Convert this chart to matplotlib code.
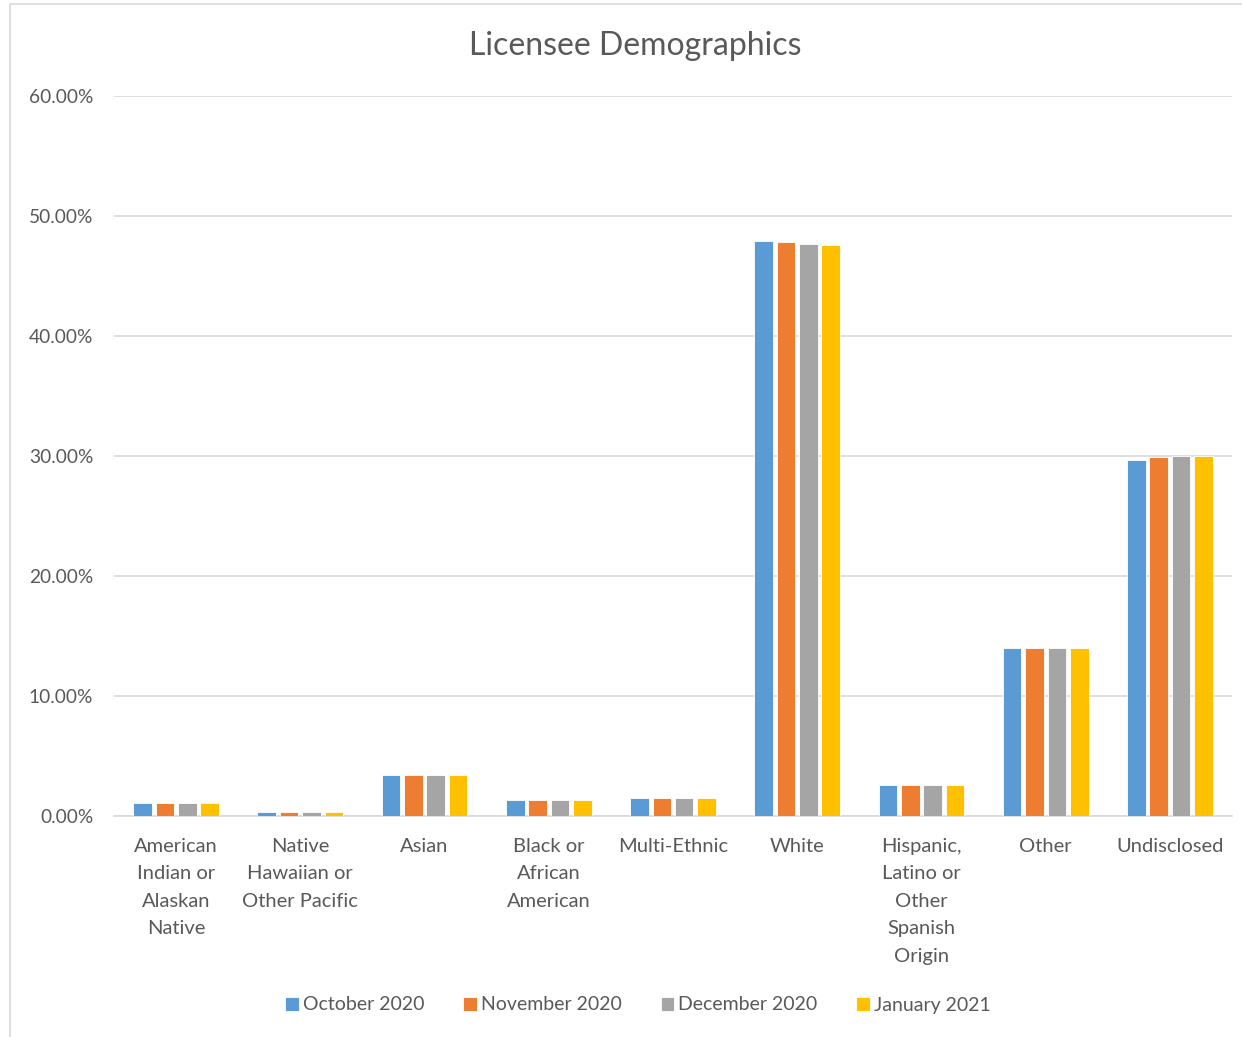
import matplotlib
matplotlib.use("Agg")
import matplotlib.pyplot as plt
import numpy as np
from matplotlib.patches import Rectangle
from matplotlib.ticker import FuncFormatter

plt.rcParams['font.family'] = ['Lato', 'DejaVu Sans']

categories = ["American\nIndian or\nAlaskan\nNative", "Native\nHawaiian or\nOther Pacific",
              "Asian", "Black or\nAfrican\nAmerican", "Multi-Ethnic", "White",
              "Hispanic,\nLatino or\nOther\nSpanish\nOrigin", "Other", "Undisclosed"]
series = ["October 2020", "November 2020", "December 2020", "January 2021"]
oct_2020 = [1.1, 0.37, 3.4, 1.32, 1.5, 47.9, 2.58, 14.0, 29.7]
nov_2020 = [1.1, 0.37, 3.4, 1.32, 1.5, 47.8, 2.58, 14.0, 29.9]
dec_2020 = [1.1, 0.37, 3.38, 1.32, 1.5, 47.7, 2.58, 14.0, 30.0]
jan_2021 = [1.1, 0.37, 3.38, 1.32, 1.5, 47.6, 2.58, 14.0, 30.0]
colors = ["#5B9BD5", "#ED7D31", "#A5A5A5", "#FFC000"]

W, H = 1242, 1037
fig = plt.figure(figsize=(W / 100, H / 100), dpi=100)
fig.patches.append(Rectangle((10 / W, -0.01), 1.0, 1 - 4 / H + 0.01, transform=fig.transFigure,
                             fill=False, edgecolor="#D9D9D9", linewidth=1.2))
ax = fig.add_axes([114 / W, 1 - 816 / H, (1232 - 114) / W, (816 - 96) / H])

x = np.arange(len(categories))
pitch = 0.18
width = 0.15
for i, (vals, name) in enumerate(zip([oct_2020, nov_2020, dec_2020, jan_2021], series)):
    ax.bar(x + (i - 1.5) * pitch, vals, width=width, color=colors[i], label=name,
           edgecolor="white", linewidth=0.6, zorder=3)

ax.set_xlim(-0.5, len(categories) - 0.5)
ax.set_ylim(0, 60)
ax.set_yticks(np.arange(0, 61, 10))
ax.yaxis.set_major_formatter(FuncFormatter(lambda v, p: f"{v:.2f}%"))
ax.grid(axis="y", color="#D9D9D9", linewidth=1.2, zorder=0)
for s in ["top", "right", "left"]:
    ax.spines[s].set_visible(False)
ax.spines["bottom"].set_color("#D9D9D9")
ax.spines["bottom"].set_linewidth(1.2)
ax.tick_params(axis="both", length=0, colors="#595959")
ax.tick_params(axis="y", pad=15, labelsize=13.8)
ax.tick_params(axis="x", pad=15.5, labelsize=14.5)
ax.set_xticks(x)
ax.set_xticklabels(categories, linespacing=1.75, va="top")

fig.text(635 / W, 1 - 46 / H, "Licensee Demographics", ha="center", va="center",
         fontsize=23, color="#595959")

fig.legend(loc="center", bbox_to_anchor=(638 / W, 1 - 1005 / H), ncol=4, frameon=False,
           fontsize=14, labelcolor="#595959", handlelength=0.7, handleheight=0.7,
           handletextpad=0.2, columnspacing=2.0)

fig.savefig("out.png", dpi=100)
